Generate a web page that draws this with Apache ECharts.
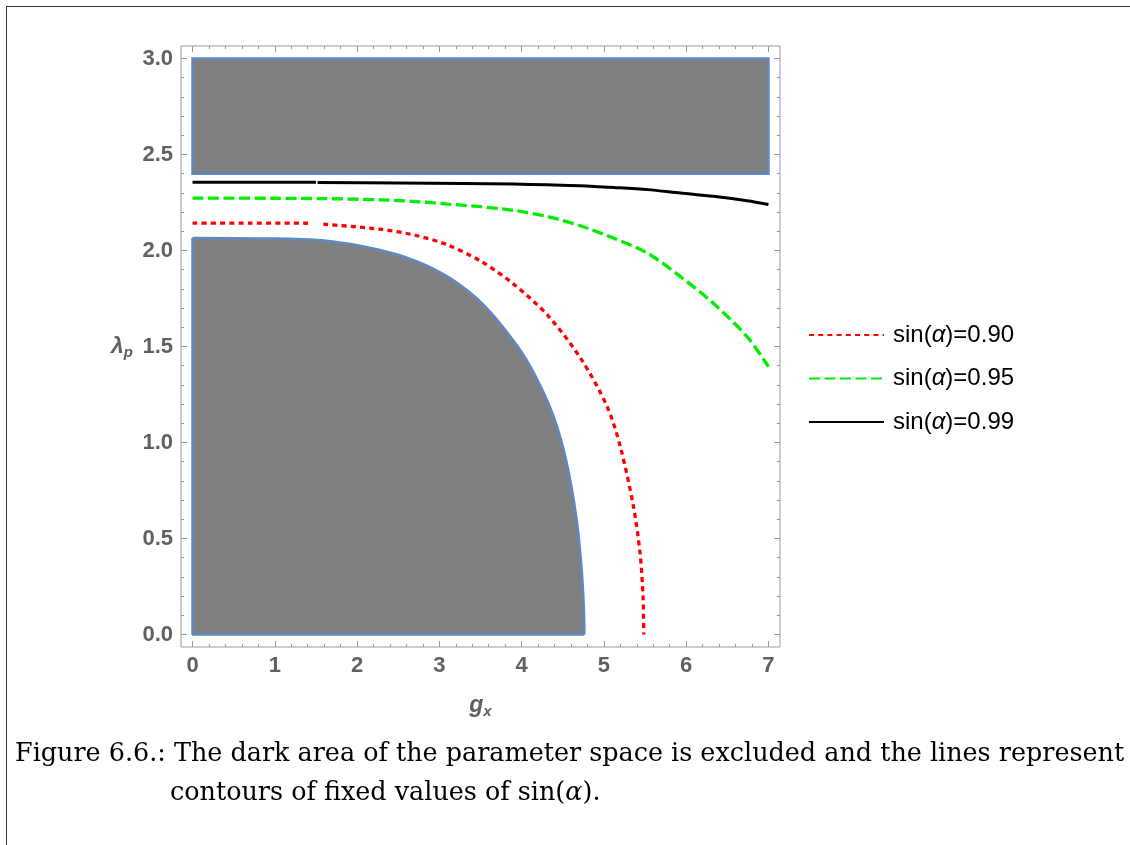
<!DOCTYPE html>
<html>
<head>
<meta charset="utf-8">
<title>sin(alpha) contours</title>
<script src="https://cdn.jsdelivr.net/npm/echarts@6/dist/echarts.min.js"></script>
<style>
    html, body { margin: 0; padding: 0; background: #fff; }
    #page { position: absolute; left: 6px; top: 6px; width: 1130px; height: 845px;
            border-top: 1.5px solid #333; border-left: 1.5px solid #333; }
    #chart { position: absolute; left: 0; top: 0; width: 1130px; height: 845px; }
</style>
</head>
<body>
<div id="page"></div>
<div id="chart"></div>
<script>
    // tick values
    var gxTicks = [0, 1, 2, 3, 4, 5, 6, 7];
    var gxMinorTicks = [0.2, 0.4, 0.6, 0.8, 1.2, 1.4, 1.6, 1.8, 2.2, 2.4, 2.6, 2.8, 3.2, 3.4, 3.6, 3.8,
        4.2, 4.4, 4.6, 4.8, 5.2, 5.4, 5.6, 5.8, 6.2, 6.4, 6.6, 6.8];
    var lpTicks = [0, 0.5, 1.0, 1.5, 2.0, 2.5, 3.0];
    var lpMinorTicks = [0.1, 0.2, 0.3, 0.4, 0.6, 0.7, 0.8, 0.9, 1.1, 1.2, 1.3, 1.4, 1.6, 1.7, 1.8, 1.9,
        2.1, 2.2, 2.3, 2.4, 2.6, 2.7, 2.8, 2.9];

    // excluded regions
    var upperX = [0, 7, 7, 0];
    var upperY = [2.4, 2.4, 3.0, 3.0];
    // upper boundary of the lower excluded region (filled down to 0)
    var lowerX = [0, 0.8, 1.6, 2.28, 2.72, 3.13, 3.54, 3.94, 4.17, 4.39, 4.55, 4.67, 4.73, 4.755, 4.763];
    var lowerY = [2.065, 2.063, 2.052, 2.003, 1.945, 1.856, 1.716, 1.508, 1.345, 1.134, 0.891, 0.595, 0.334, 0.15, 0];
    // its straight left and bottom edges
    var lowerEdgeX = [0, 0, 4.763];
    var lowerEdgeY = [2.065, 0, 0];

    // contours, null = break in the line
    var names = ['sin(α)=0.90', 'sin(α)=0.95', 'sin(α)=0.99'];
    var redX = [0, 0.7, 1.41, 1.5, 1.59, 2.28, 2.72, 3.1, 3.5, 3.9, 4.33, 4.73, 5.04, 5.2, 5.36, 5.44, 5.475, 5.484];
    var redY = [2.143, 2.143, 2.142, null, 2.137, 2.111, 2.078, 2.029, 1.945, 1.826, 1.656, 1.43, 1.186, 0.977, 0.664, 0.421, 0.2, 0];
    var greenX = [0, 1.0, 1.6, 2.28, 2.7, 3.1, 3.5, 3.9, 4.31, 4.71, 5.12, 5.53, 5.93, 6.33, 6.74, 7.0];
    var greenY = [2.273, 2.272, 2.27, 2.264, 2.255, 2.242, 2.228, 2.209, 2.177, 2.129, 2.064, 1.986, 1.864, 1.725, 1.551, 1.395];
    var blackX = [0, 0.75, 1.5, 1.51, 1.52, 2.5, 3.3, 3.9, 4.3, 4.71, 5.12, 5.53, 5.93, 6.33, 6.74, 7.0];
    var blackY = [2.355, 2.355, 2.355, null, 2.354, 2.352, 2.349, 2.346, 2.342, 2.337, 2.328, 2.317, 2.299, 2.282, 2.259, 2.240];

    function pairs(xs, ys) {
        return xs.map(function (x, i) { return [x, ys[i] === null ? '-' : ys[i]]; });
    }

    var labelColor = '#606060';
    var frameColor = '#999';
    var edgeBlue = '#6088c4';
    var fillGray = '#808080';

    function xAxisCfg(pos, ticks, len, labels) {
        return {
            type: 'value', position: pos, min: -0.14, max: 7.14,
            axisLine: { show: false, onZero: false },
            axisTick: { show: true, inside: true, length: len, customValues: ticks,
                lineStyle: { color: frameColor, width: 1 } },
            axisLabel: labels ? {
                show: true, customValues: ticks, margin: 8,
                color: labelColor, fontSize: 22, fontWeight: 'bold', fontFamily: 'Liberation Sans',
                formatter: function (v) { return String(Math.round(v)); }
            } : { show: false },
            splitLine: { show: false }
        };
    }
    function yAxisCfg(pos, ticks, len, labels) {
        return {
            type: 'value', position: pos, min: -0.065, max: 3.065,
            axisLine: { show: false, onZero: false },
            axisTick: { show: true, inside: true, length: len, customValues: ticks,
                lineStyle: { color: frameColor, width: 1 } },
            axisLabel: labels ? {
                show: true, customValues: ticks, margin: 8,
                color: labelColor, fontSize: 22, fontWeight: 'bold', fontFamily: 'Liberation Sans',
                formatter: function (v) { return v.toFixed(1); }
            } : { show: false },
            splitLine: { show: false }
        };
    }

    var nameRich = {
        v: { fontSize: 23, fontWeight: 'bold', fontStyle: 'italic', color: labelColor, fontFamily: 'Liberation Sans' },
        s: { fontSize: 15, fontWeight: 'bold', fontStyle: 'italic', color: labelColor, fontFamily: 'Liberation Sans', padding: [12, 0, 0, 0] }
    };
    var xMain = xAxisCfg('bottom', gxTicks, 6, true);
    xMain.name = '{v|g}{s|x}';
    xMain.nameLocation = 'middle';
    xMain.nameGap = 45;
    xMain.nameTextStyle = { rich: nameRich };
    var yMain = yAxisCfg('left', lpTicks, 6, true);
    yMain.name = '{v|λ}{s|p}';
    yMain.nameLocation = 'middle';
    yMain.nameRotate = 0;
    yMain.nameGap = 48;
    yMain.nameTextStyle = { rich: nameRich };

    function lineSeries(name, data, color, type, width) {
        return {
            name: name, type: 'line', data: data, z: 3,
            showSymbol: false, symbol: 'none', smooth: 0.3, connectNulls: false,
            lineStyle: { color: color, width: width, type: type, cap: 'butt' },
            itemStyle: { color: color }
        };
    }

    var chart = echarts.init(document.getElementById('chart'));
    var option = {
        animation: false,
        title: [{
            text: 'Figure 6.6.: The dark area of the parameter space is excluded and the lines represent',
            left: 15, top: 742, padding: 0,
            textStyle: { fontFamily: 'DejaVu Serif', fontSize: 25.45, fontWeight: 'normal', color: '#000' }
        }, {
            text: '{t|contours of fixed values of sin(}{a|α}{t|).}',
            left: 170, top: 781, padding: 0,
            textStyle: {
                fontWeight: 'normal',
                rich: {
                    t: { fontFamily: 'DejaVu Serif', fontSize: 25.45, fontWeight: 'normal', color: '#000' },
                    a: { fontFamily: 'DejaVu Serif', fontSize: 25.45, fontWeight: 'normal', fontStyle: 'italic', color: '#000' }
                }
            }
        }],
        grid: { left: 181, top: 46, width: 599, height: 601, show: true, borderColor: frameColor, borderWidth: 1,
            backgroundColor: 'transparent', outerBoundsMode: 'none' },
        legend: {
            data: names, orient: 'vertical', left: 808, top: 323, padding: 0,
            itemWidth: 75, itemHeight: 4, itemGap: 19.5, selectedMode: false,
            itemStyle: { opacity: 0 },
            formatter: function (n) { return '{t|' + n.replace('α', '}{a|α}{t|') + '}'; },
            textStyle: {
                padding: [0, 0, 0, 4],
                rich: {
                    t: { fontFamily: 'Liberation Sans', fontSize: 24, color: '#000', lineHeight: 24 },
                    a: { fontFamily: 'Liberation Sans', fontSize: 24, fontStyle: 'italic', color: '#000', lineHeight: 24 }
                }
            }
        },
        xAxis: [
            xMain,
            xAxisCfg('bottom', gxMinorTicks, 3, false),
            xAxisCfg('top', gxTicks, 6, false),
            xAxisCfg('top', gxMinorTicks, 3, false)
        ],
        yAxis: [
            yMain,
            yAxisCfg('left', lpMinorTicks, 3, false),
            yAxisCfg('right', lpTicks, 6, false),
            yAxisCfg('right', lpMinorTicks, 3, false)
        ],
        series: [
            {
                type: 'custom', data: [[upperX[0], upperY[0]]], z: 1, silent: true,
                renderItem: function (params, api) {
                    var pts = upperX.map(function (x, i) { return api.coord([x, upperY[i]]); });
                    return { type: 'polygon', shape: { points: pts },
                        style: { fill: fillGray, stroke: edgeBlue, lineWidth: 2.5 } };
                }
            },
            {
                type: 'line', data: pairs(lowerX, lowerY), z: 1, silent: true,
                showSymbol: false, symbol: 'none', smooth: 0.35,
                lineStyle: { color: edgeBlue, width: 2.5 },
                areaStyle: { color: fillGray, opacity: 1, origin: 0 }
            },
            {
                type: 'line', data: pairs(lowerEdgeX, lowerEdgeY), z: 2, silent: true,
                showSymbol: false, symbol: 'none',
                lineStyle: { color: edgeBlue, width: 2.5 }
            },
            lineSeries(names[0], pairs(redX, redY), '#ff0000', [5, 4.2], 3.3),
            lineSeries(names[1], pairs(greenX, greenY), '#00ee00', [11, 4.5], 3.3),
            lineSeries(names[2], pairs(blackX, blackY), '#000000', 'solid', 3)
        ]
    };
    chart.setOption(option);
</script>
</body>
</html>
